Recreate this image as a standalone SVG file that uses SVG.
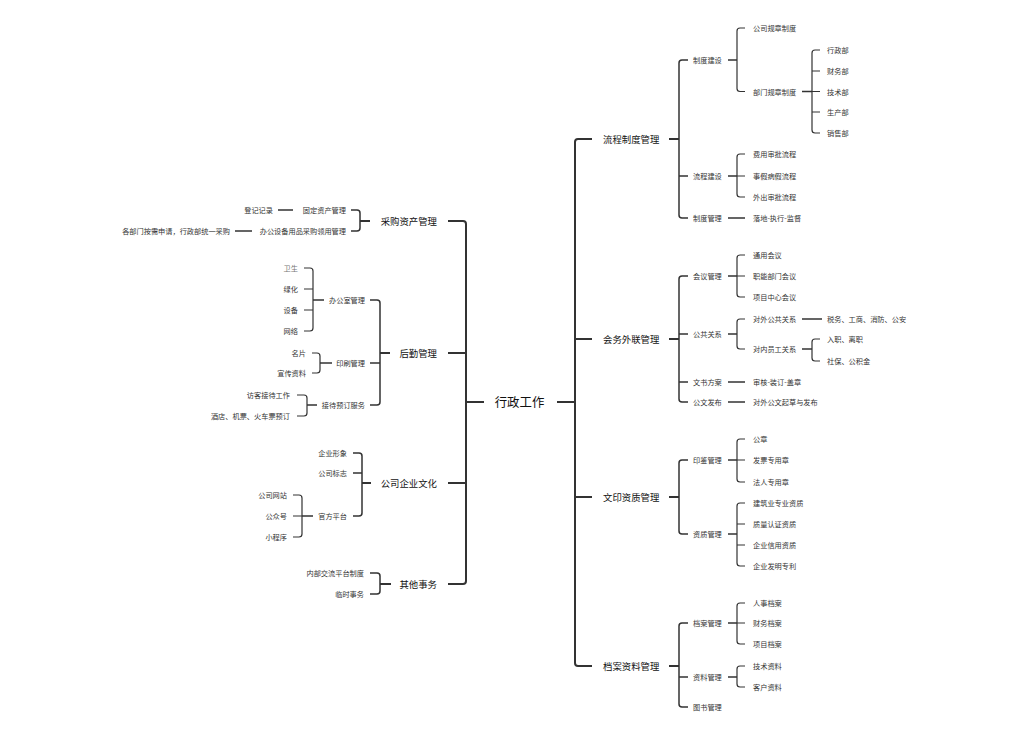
<svg xmlns="http://www.w3.org/2000/svg" width="1028" height="736" viewBox="0 0 1028 736">
<style>
text{font-family:"Noto Sans CJK SC","Noto Sans",sans-serif;dominant-baseline:central;fill:#333}
.t0{font-size:12.4px;text-anchor:middle;fill:#111}
.t1{font-size:9.4px;fill:#111}
.t2{font-size:7.2px}
.l{text-anchor:end}
#links path{fill:none;stroke:#333;stroke-linecap:butt}
.w2{stroke-width:2}
.w15{stroke-width:1.5}
.w12{stroke-width:1.2}
</style>
<rect width="1028" height="736" fill="#fff"/>
<g id="links">
<path class="w2" d="M466,402H484M557,402H575"/>
<path class="w2" d="M448,221H463Q466,221 466,224V581Q466,584 463,584H448M448,353H466M448,483H466"/>
<path class="w2" d="M592,139H578Q575,139 575,142V663Q575,666 578,666H592M575,339H592M575,497H592"/>
<path class="w2" d="M669,139H679M669,339H679M669,497H679M669,666H679"/>
<path class="w15" d="M688,60H682Q679,60 679,63V215Q679,218 682,218H688M679,176H688M688,276H682Q679,276 679,279V399Q679,402 682,402H688M679,334H688M679,382H688M688,460H682Q679,460 679,463V531Q679,534 682,534H688M688,623H682Q679,623 679,626V704Q679,707 682,707H688M679,677H688"/>
<path class="w15" d="M728,60H737M728,176H737M728,218H745M728,276H737M728,334H737M728,382H745M728,402H745M728,460H737M728,534H737M728,623H737M728,677H737"/>
<path class="w12" d="M745,28H740Q737,28 737,31V88.5Q737,91.5 740,91.5H745M745,154H740Q737,154 737,157V194Q737,197 740,197H745M737,176H745M745,255H740Q737,255 737,258V294Q737,297 740,297H745M737,276H745M745,319H740Q737,319 737,322V346Q737,349 740,349H745M745,439H740Q737,439 737,442V479Q737,482 740,482H745M737,460H745M745,503H740Q737,503 737,506V563Q737,566 740,566H745M737,524H745M737,545H745M745,603H740Q737,603 737,606V641Q737,644 740,644H745M737,623H745M745,666H740Q737,666 737,669V684Q737,687 740,687H745"/>
<path class="w15" d="M802,91.5H812M802,319H822M802,349H812"/>
<path class="w12" d="M820,50H815Q812,50 812,53V130Q812,133 815,133H820M812,71H820M812,91.5H820M812,112H820M820,339H815Q812,339 812,342V358Q812,361 815,361H820"/>
<path class="w2" d="M360,221H370M380,353H390M362,483H371M380,584H391"/>
<path class="w15" d="M351,210H357Q360,210 360,213V228Q360,231 357,231H351M370,300H377Q380,300 380,303V402Q380,405 377,405H370M370,363H380M353,453H359Q362,453 362,456V513Q362,516 359,516H353M353,473H362M370,573H377Q380,573 380,576V591Q380,594 377,594H370"/>
<path class="w15" d="M278,210H293M235,231H252M313,300H324M320,363H332M307,405H317M302,516H313"/>
<path class="w12" d="M304,268H310Q313,268 313,271V328Q313,331 310,331H304M304,289H313M304,310H313M312,353H317Q320,353 320,356V370Q320,373 317,373H312M297,395H304Q307,395 307,398V413Q307,416 304,416H297M293,495H299Q302,495 302,498V534Q302,537 299,537H293M293,516H302"/>
</g>
<g id="root"><text class="t0" x="519.5" y="402">行政工作</text></g>
<g id="r1"><text class="t1" x="603" y="139">流程制度管理</text></g>
<g id="r2"><text class="t1" x="603" y="339">会务外联管理</text></g>
<g id="r3"><text class="t1" x="603" y="497">文印资质管理</text></g>
<g id="r4"><text class="t1" x="603" y="666">档案资料管理</text></g>
<g id="r1a"><text class="t2" x="693" y="60">制度建设</text></g>
<g id="r1b"><text class="t2" x="693" y="176">流程建设</text></g>
<g id="r1c"><text class="t2" x="693" y="218">制度管理</text></g>
<g id="r2a"><text class="t2" x="693" y="276">会议管理</text></g>
<g id="r2b"><text class="t2" x="693" y="334">公共关系</text></g>
<g id="r2c"><text class="t2" x="693" y="382">文书方案</text></g>
<g id="r2d"><text class="t2" x="693" y="402">公文发布</text></g>
<g id="r3a"><text class="t2" x="693" y="460">印鉴管理</text></g>
<g id="r3b"><text class="t2" x="693" y="534">资质管理</text></g>
<g id="r4a"><text class="t2" x="693" y="623">档案管理</text></g>
<g id="r4b"><text class="t2" x="693" y="677">资料管理</text></g>
<g id="r4c"><text class="t2" x="693" y="707">图书管理</text></g>
<g id="r1a1"><text class="t2" x="753" y="28">公司规章制度</text></g>
<g id="r1a2"><text class="t2" x="753" y="91.5">部门规章制度</text></g>
<g id="r1b1"><text class="t2" x="753" y="154">费用审批流程</text></g>
<g id="r1b2"><text class="t2" x="753" y="176">事假病假流程</text></g>
<g id="r1b3"><text class="t2" x="753" y="197">外出审批流程</text></g>
<g id="r1c1"><text class="t2" x="753" y="218">落地-执行-监督</text></g>
<g id="r2a1"><text class="t2" x="753" y="255">通用会议</text></g>
<g id="r2a2"><text class="t2" x="753" y="276">职能部门会议</text></g>
<g id="r2a3"><text class="t2" x="753" y="297">项目中心会议</text></g>
<g id="r2b1"><text class="t2" x="753" y="319">对外公共关系</text></g>
<g id="r2b2"><text class="t2" x="753" y="349">对内员工关系</text></g>
<g id="r2c1"><text class="t2" x="753" y="382">审核-装订-盖章</text></g>
<g id="r2d1"><text class="t2" x="753" y="402">对外公文起草与发布</text></g>
<g id="r3a1"><text class="t2" x="753" y="439">公章</text></g>
<g id="r3a2"><text class="t2" x="753" y="460">发票专用章</text></g>
<g id="r3a3"><text class="t2" x="753" y="482">法人专用章</text></g>
<g id="r3b1"><text class="t2" x="753" y="503">建筑业专业资质</text></g>
<g id="r3b2"><text class="t2" x="753" y="524">质量认证资质</text></g>
<g id="r3b3"><text class="t2" x="753" y="545">企业信用资质</text></g>
<g id="r3b4"><text class="t2" x="753" y="566">企业发明专利</text></g>
<g id="r4a1"><text class="t2" x="753" y="603">人事档案</text></g>
<g id="r4a2"><text class="t2" x="753" y="623">财务档案</text></g>
<g id="r4a3"><text class="t2" x="753" y="644">项目档案</text></g>
<g id="r4b1"><text class="t2" x="753" y="666">技术资料</text></g>
<g id="r4b2"><text class="t2" x="753" y="687">客户资料</text></g>
<g id="d1"><text class="t2" x="827" y="50">行政部</text></g>
<g id="d2"><text class="t2" x="827" y="71">财务部</text></g>
<g id="d3"><text class="t2" x="827" y="91.5">技术部</text></g>
<g id="d4"><text class="t2" x="827" y="112">生产部</text></g>
<g id="d5"><text class="t2" x="827" y="133">销售部</text></g>
<g id="p1"><text class="t2" x="827" y="319">税务、工商、消防、公安</text></g>
<g id="p2"><text class="t2" x="827" y="339">入职、离职</text></g>
<g id="p3"><text class="t2" x="827" y="361">社保、公积金</text></g>
<g id="l1"><text class="t1 l" x="437" y="221">采购资产管理</text></g>
<g id="l2"><text class="t1 l" x="437" y="353">后勤管理</text></g>
<g id="l3"><text class="t1 l" x="437" y="483">公司企业文化</text></g>
<g id="l4"><text class="t1 l" x="437" y="584">其他事务</text></g>
<g id="l1a"><text class="t2 l" x="346" y="210">固定资产管理</text></g>
<g id="l1b"><text class="t2 l" x="346" y="231">办公设备用品采购领用管理</text></g>
<g id="l2a"><text class="t2 l" x="365" y="300">办公室管理</text></g>
<g id="l2b"><text class="t2 l" x="365" y="363">印刷管理</text></g>
<g id="l2c"><text class="t2 l" x="365" y="405">接待预订服务</text></g>
<g id="l3a"><text class="t2 l" x="347" y="453">企业形象</text></g>
<g id="l3b"><text class="t2 l" x="347" y="473">公司标志</text></g>
<g id="l3c"><text class="t2 l" x="347" y="516">官方平台</text></g>
<g id="l4a"><text class="t2 l" x="364" y="573">内部交流平台制度</text></g>
<g id="l4b"><text class="t2 l" x="364" y="594">临时事务</text></g>
<g id="l1a1"><text class="t2 l" x="273" y="210">登记记录</text></g>
<g id="l1b1"><text class="t2 l" x="230" y="231">各部门按需申请，行政部统一采购</text></g>
<g id="l2a1"><text class="t2 l" x="298" y="268" style="fill:#777">卫生</text></g>
<g id="l2a2"><text class="t2 l" x="298" y="289">绿化</text></g>
<g id="l2a3"><text class="t2 l" x="298" y="310">设备</text></g>
<g id="l2a4"><text class="t2 l" x="298" y="331">网络</text></g>
<g id="l2b1"><text class="t2 l" x="306" y="353">名片</text></g>
<g id="l2b2"><text class="t2 l" x="306" y="373">宣传资料</text></g>
<g id="l2c1"><text class="t2 l" x="290" y="395">访客接待工作</text></g>
<g id="l2c2"><text class="t2 l" x="290" y="416">酒店、机票、火车票预订</text></g>
<g id="l3c1"><text class="t2 l" x="287" y="495">公司网站</text></g>
<g id="l3c2"><text class="t2 l" x="287" y="516">公众号</text></g>
<g id="l3c3"><text class="t2 l" x="287" y="537">小程序</text></g>
</svg>
